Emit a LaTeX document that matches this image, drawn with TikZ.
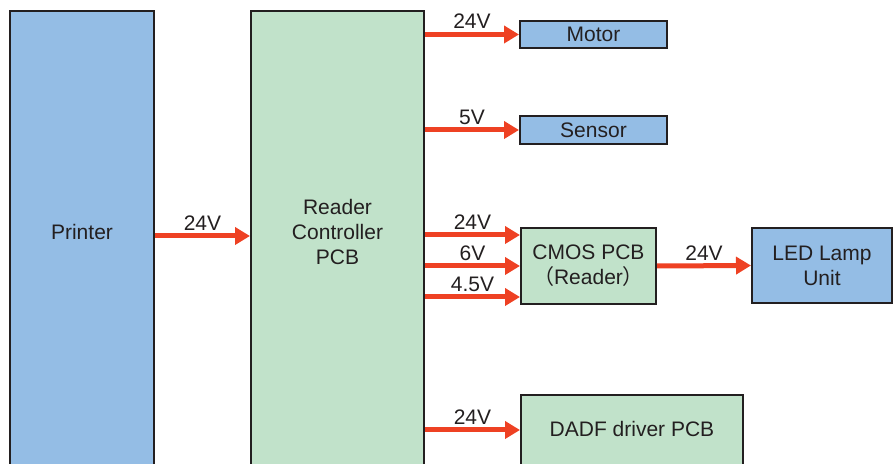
\documentclass[tikz,border=0pt]{standalone}
\usepackage{fontspec}
\setmainfont{Liberation Sans}
\newfontfamily\cjk{Noto Sans CJK JP}
\usetikzlibrary{arrows.meta,positioning}
\definecolor{BoxBlue}{HTML}{94BDE5}
\definecolor{BoxGreen}{HTML}{C1E2CA}
\definecolor{FeedRed}{HTML}{EE4123}
\definecolor{Ink}{HTML}{231F20}

\begin{document}
\begin{tikzpicture}[x=0.5pt,y=-0.5pt,>={Triangle[length=7.5pt,width=8.5pt]}]
    \tikzset{
      box/.style={draw=Ink,line width=1pt,text=Ink,inner sep=0pt,align=center,
        font=\fontsize{10.5}{12.5}\selectfont},
      unit/.style={box,fill=BoxBlue},
      pcb/.style={box,fill=BoxGreen},
      feed/.style={->,FeedRed,line width=2.5pt},
      volt/.style={above,inner sep=1.5pt,text=Ink,font=\fontsize{10.5}{12.5}\selectfont}
    }
    \useasboundingbox (0,0) rectangle (894,464);
    \clip (0,0) rectangle (894,464);
    \node[unit,minimum width=72pt,text height=114.3pt,text depth=125.2pt] (printer) at (82,250.5) {Printer};
    \node[pcb,minimum width=86.5pt,text height=126.8pt,text depth=112.7pt,right=47.5pt of printer] (reader) {Reader\\Controller\\PCB};
    \node[unit,minimum width=73.5pt,minimum height=13.5pt] (motor) at (593.5,34.5) {Motor};
    \node[unit,minimum width=73.5pt,minimum height=14pt] (sensor) at (593.5,130) {Sensor};
    \node[pcb,minimum width=67.5pt,minimum height=38pt] (cmos) at (588.5,266) {CMOS PCB\\{\cjk （}Reader{\cjk ）}};
    \node[unit,minimum width=70pt,minimum height=37.5pt] (led) at (822,265.5) {LED Lamp\\Unit};
    \node[pcb,minimum width=111pt,text height=20.8pt,text depth=26.7pt] (dadf) at (632,442.5) {DADF driver PCB};
    % supply lines
    \coordinate (main) at (0,236);
    \draw[feed] (printer.east |- main) -- node[volt] {24V} (reader.west |- main);
    \foreach \dst/\dy/\volt in {motor/0/24V,sensor/0/5V,cmos/15.5/24V,cmos/0/6V,cmos/-15.5/4.5V,dadf/6.25/24V}
    {
      \coordinate (tip) at ([yshift=\dy pt]\dst.west);
      \draw[feed] (reader.east |- tip) -- node[volt] {\volt} (tip);
    }
    \draw[feed] (cmos.east) -- node[volt] {24V} (led.west);
\end{tikzpicture}
\end{document}
